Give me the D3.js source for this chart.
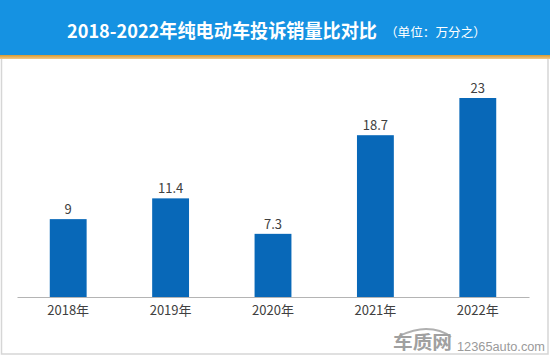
<!DOCTYPE html>
<html><head><meta charset="utf-8">
<script src="https://cdn.jsdelivr.net/npm/d3@7"></script>
<style>html,body{margin:0;padding:0;background:#fff;}svg{display:block;}</style>
</head><body>
<svg id="chart" width="550" height="356"></svg>
<script>
const categories = ["2018年", "2019年", "2020年", "2021年", "2022年"];
const values = [9, 11.4, 7.3, 18.7, 23];
const valueLabels = ["9", "11.4", "7.3", "18.7", "23"];
const titleText = "2018-2022年纯电动车投诉销量比对比";
const subtitleText = "（单位：万分之）";

const W = 550, H = 356;
const font = "'Noto Sans CJK SC', 'Noto Sans', sans-serif";
const svg = d3.select("#chart");

// background panel
svg.append("rect").attr("x", 0).attr("y", 0).attr("width", W).attr("height", H).attr("fill", "#fff");
svg.append("rect").attr("x", 1.5).attr("y", 58).attr("width", 546.5).attr("height", 296)
  .attr("fill", "#fff").attr("stroke", "#d6d6d6").attr("stroke-width", 1.5);

// header
const defs = svg.append("defs");
const og = defs.append("linearGradient").attr("id", "og").attr("x1", 0).attr("y1", 0).attr("x2", 0).attr("y2", 1);
og.append("stop").attr("offset", "0%").attr("stop-color", "#d99a2e");
og.append("stop").attr("offset", "100%").attr("stop-color", "#f2c98a");
svg.append("rect").attr("x", 0).attr("y", 0).attr("width", W).attr("height", 56).attr("fill", "#1592e2");
svg.append("rect").attr("x", 0).attr("y", 55).attr("width", W).attr("height", 4).attr("fill", "url(#og)");

svg.append("text").attr("x", 67).attr("y", 38).attr("fill", "#fff").attr("font-family", font)
  .attr("font-size", 19).attr("font-weight", "bold")
  .attr("textLength", 310).attr("lengthAdjust", "spacingAndGlyphs").text(titleText);
svg.append("text").attr("x", 385).attr("y", 37).attr("fill", "#fff").attr("font-family", font)
  .attr("font-size", 12.5)
  .attr("textLength", 101).attr("lengthAdjust", "spacingAndGlyphs").text(subtitleText);

// scales
const x = d3.scaleBand().domain(categories).range([17, 529]).paddingInner(0.64).paddingOuter(0.32);
const y = d3.scaleLinear().domain([0, 23]).range([297, 98]);

// bars
svg.append("g").selectAll("rect").data(values).join("rect")
  .attr("x", (d, i) => x(categories[i]))
  .attr("y", d => y(d))
  .attr("width", x.bandwidth())
  .attr("height", d => y(0) - y(d))
  .attr("fill", "#0868b8");

// value labels
svg.append("g").selectAll("text").data(values).join("text")
  .attr("x", (d, i) => x(categories[i]) + x.bandwidth() / 2)
  .attr("y", d => y(d) - 5)
  .attr("text-anchor", "middle")
  .attr("font-family", font).attr("font-size", 13).attr("fill", "#404040")
  .text((d, i) => valueLabels[i]);

// x axis
const ax = svg.append("g").attr("transform", `translate(0,${y(0)})`)
  .call(d3.axisBottom(x).tickSize(0).tickPadding(9));
ax.select(".domain").attr("stroke", "#b4b4b4").attr("stroke-width", 1.2);
ax.selectAll("text").attr("font-family", font).attr("font-size", 13).attr("fill", "#404040");

// watermark
const wm = svg.append("g");
wm.append("path").attr("d", "M399,336 C410,331 418,329 426,329 C438,329 446,333 451,337")
  .attr("fill", "none").attr("stroke", "#b0b0b0").attr("stroke-width", 1.8);
wm.append("text").attr("x", 393).attr("y", 349).attr("font-family", font)
  .attr("font-size", 18).attr("font-weight", "bold").attr("fill", "#a0a0a0")
  .attr("textLength", 59).attr("lengthAdjust", "spacingAndGlyphs").text("车质网");
wm.append("text").attr("x", 457).attr("y", 351).attr("font-family", "'Liberation Sans', Arial, sans-serif")
  .attr("font-size", 12.5).attr("fill", "#9a9a9a")
  .attr("textLength", 88).attr("lengthAdjust", "spacingAndGlyphs").text("12365auto.com");
</script>
</body></html>
